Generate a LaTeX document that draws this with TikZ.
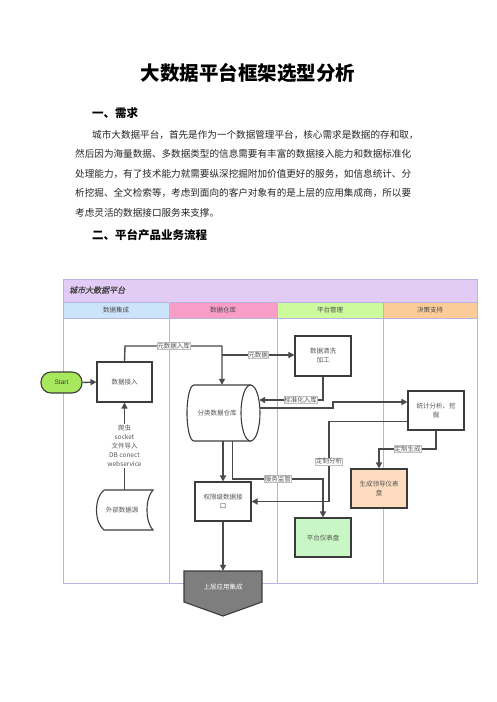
\documentclass[tikz,border=0pt]{standalone}
\usepackage{fontspec}
\setmainfont{Noto Sans CJK SC}
\newfontfamily\latsans{Liberation Sans}
\newfontfamily\cjkslant{Noto Sans CJK SC}[FakeSlant=0.2,FakeBold=1.5]
\usetikzlibrary{arrows.meta,shapes.geometric,calc}
\XeTeXlinebreaklocale "zh"
\XeTeXlinebreakskip=0pt plus 2pt
\definecolor{lane}{HTML}{B8B4E2}
\definecolor{hdr}{HTML}{E2CCF6}
\definecolor{lblue}{HTML}{CCE4FA}
\definecolor{lpink}{HTML}{F89CC8}
\definecolor{lgreen}{HTML}{CCFA9C}
\definecolor{lorange}{HTML}{FCCC98}
\definecolor{boxline}{HTML}{3C3C3C}
\definecolor{conn}{HTML}{4A4A4A}
\definecolor{txt}{HTML}{555555}
\definecolor{startg}{HTML}{A8E85C}
\definecolor{leadfill}{HTML}{FEDCC0}
\definecolor{platfill}{HTML}{C8F6C4}
\definecolor{upfill}{HTML}{7E7E7E}
\tikzset{
  box/.style={draw=boxline,line width=1.1pt,fill=white,minimum width=56pt,minimum height=40pt,
    inner sep=1pt,align=center,text=txt,font=\fontsize{6.5}{9}\selectfont},
  conline/.style={draw=conn,line width=1.4pt},
  arr/.style={conline,-{Triangle[length=6pt,width=6pt]}},
  lbl/.style={fill=white,draw=gray!50,line width=0.3pt,inner sep=0.6pt,text=txt,
    font=\fontsize{6.5}{7}\selectfont},
  body/.style={anchor=west,inner sep=0pt,font=\fontsize{9.6}{10}\selectfont,text=black!85},
  lanehdr/.style={inner sep=0pt,text=black!70,font=\fontsize{6.5}{7}\selectfont}
}
\begin{document}
\begin{tikzpicture}[x=1pt,y=-1pt]
\useasboundingbox (0,0) rectangle (496,702);
\fill[white] (0,0) rectangle (496,702);
% text
\node[font=\fontsize{19.5}{20}\selectfont\bfseries,inner sep=0pt] (title) at (248,73) {大数据平台框架选型分析};
\node[anchor=west,inner sep=0pt,font=\fontsize{11.5}{12}\selectfont\bfseries] (h1) at (92,113) {一、需求};
\node[body] (l1) at (92,134.5) {\hbox to 330pt{城市大数据平台，首先是作为一个数据管理平台，核心需求是数据的存和取，}};
\node[body] (l2) at (75,154) {\hbox to 347pt{然后因为海量数据、多数据类型的信息需要有丰富的数据接入能力和数据标准化}};
\node[body] (l3) at (75,173.5) {\hbox to 347pt{处理能力，有了技术能力就需要纵深挖掘附加价值更好的服务，如信息统计、分}};
\node[body] (l4) at (75,193) {\hbox to 347pt{析挖掘、全文检索等，考虑到面向的客户对象有的是上层的应用集成商，所以要}};
\node[body] (l5) at (75,212.5) {考虑灵活的数据接口服务来支撑。};
\node[anchor=west,inner sep=0pt,font=\fontsize{11.5}{12}\selectfont\bfseries] (h2) at (92,235) {二、平台产品业务流程};
% frame
\fill[hdr] (63,279) rectangle (477,302);
\fill[lblue] (63,302) rectangle (169,318);
\fill[lpink] (169,302) rectangle (277,318);
\fill[lgreen] (277,302) rectangle (383,318);
\fill[lorange] (383,302) rectangle (477,318);
\draw[lane,line width=0.8pt] (63,279) rectangle (477,583);
\draw[lane,line width=0.6pt] (63,302) -- (477,302);
\draw[lane,line width=0.6pt] (63,318) -- (477,318);
\foreach \x in {169,277,383} \draw[lane,line width=0.8pt] (\x,302) -- (\x,583);
\node[anchor=west,inner sep=0pt,text=black!70,font=\cjkslant\fontsize{8}{9}\selectfont] (ptitle) at (69,290) {城市大数据平台};
\node[lanehdr] (lh1) at (116,310) {数据集成};
\node[lanehdr] (lh2) at (223,310) {数据仓库};
\node[lanehdr] (lh3) at (330,310) {平台管理};
\node[lanehdr] (lh4) at (430,310) {决策支持};
% nodes
\node[draw=boxline,line width=1.1pt,fill=startg,rounded corners=10pt,minimum width=41pt,minimum height=21pt,
  inner sep=0pt,font=\latsans\fontsize{6.5}{7}\selectfont,text=black!75] (start) at (61.5,382.5) {Start};
\node[box,minimum width=55pt] (jr) at (124.5,382) {数据接入};
\node[minimum width=57pt,minimum height=40pt,inner sep=0pt] (ext) at (124.5,510) {};
\draw[draw=boxline,line width=1.1pt,fill=white] (104,490) -- (153,490) .. controls (145,498) and (145,522) .. (153,530)
  -- (104,530) .. controls (94,522) and (94,498) .. (104,490);
\node[text=txt,font=\fontsize{6.5}{7}\selectfont,inner sep=0pt] (extt) at (122,510) {外部数据源};
% warehouse cylinder (horizontal)
\node[minimum width=73pt,minimum height=56pt,inner sep=0pt] (wh) at (223.5,413) {};
\draw[draw=boxline,line width=1.1pt,fill=white] (194,385) -- (250.5,385) -- (250.5,441) -- (194,441)
  .. controls (190,441) and (187,428.5) .. (187,413) .. controls (187,397.5) and (190,385) .. (194,385) -- cycle;
\draw[draw=boxline,line width=1.1pt,fill=white] (250.5,413) ellipse [x radius=9.5, y radius=28];
\node[text=txt,font=\fontsize{6.5}{7}\selectfont,inner sep=0pt] (wht) at (217,413) {分类数据仓库};
\node[box] (clean) at (323,356) {数据清洗\\加工};
\node[box,minimum height=39pt] (stat) at (436,410.5) {统计分析、挖\\掘};
\node[box,minimum height=39pt,fill=leadfill] (lead) at (379,488.5) {生成领导仪表\\盘};
\node[box,minimum height=39pt,fill=platfill] (plat) at (323,537.5) {平台仪表盘};
\node[box,minimum height=39pt] (api) at (223,501.5) {权限级数据接\\口};
\draw[draw=boxline,line width=1.1pt,fill=upfill] (184,571) -- (262,571) -- (262,602) -- (223,616) -- (184,602) -- cycle;
\node[minimum width=78pt,minimum height=32pt,inner sep=0pt,text=white,font=\fontsize{6.5}{7}\selectfont] (up) at (223,587) {上层应用集成};
% connectors
\draw[arr] (start.east) -- (jr.west);
\draw[arr] (ext.north) -- node[fill=white,inner sep=1pt,align=center,text=txt,font=\fontsize{6.5}{9}\selectfont]
  (srclbl) {爬虫\\socket\\文件导入\\DB conect\\webservice} (jr.south);
\coordinate (c1) at (125,346);
\coordinate (c2) at (222,346);
\coordinate (c3) at (222,355);
\draw[arr] (jr.north) -- (c1) -- node[lbl] (lb1) {元数据入库} (c2) -- (c2 |- wh.north);
\draw[arr] (c3) -- node[lbl] (lb2) {元数据} (c3 -| clean.west);
\coordinate (c4) at (323,400);
\draw[arr] (clean.south) -- (c4) -- node[lbl,pos=0.35] (lb3) {标准化入库} ([yshift=13pt,xshift=-1pt]wh.east);
\coordinate (c5) at (333,408);
\coordinate (c6) at (333,402);
\draw[arr] ([yshift=5pt,xshift=-0.5pt]wh.east) -- (c5) -- (c6) -- (c6 -| stat.west);
\coordinate (c7) at (329,421.5);
\coordinate (c8) at (329,501.5);
\draw[arr] (c7 -| stat.west) -- (c7) -- node[lbl] (lb4) {定制分析} (c8) -- (api.east);
\coordinate (c9) at (436,449);
\coordinate (c10) at (379,449);
\draw[arr] (stat.south) -- (c9) -- node[lbl] (lb5) {定制生成} (c10) -- (lead.north);
\coordinate (c11) at (232.5,479);
\coordinate (c12) at (323,479);
\draw[arr] (c11 |- wh.south) -- (c11) -- node[lbl] (lb6) {服务监管} (c12) -- (plat.north);
\draw[arr] (wh.south -| api.north) -- (api.north);
\draw[arr] (api.south) -- (up.north);
\end{tikzpicture}
\end{document}
